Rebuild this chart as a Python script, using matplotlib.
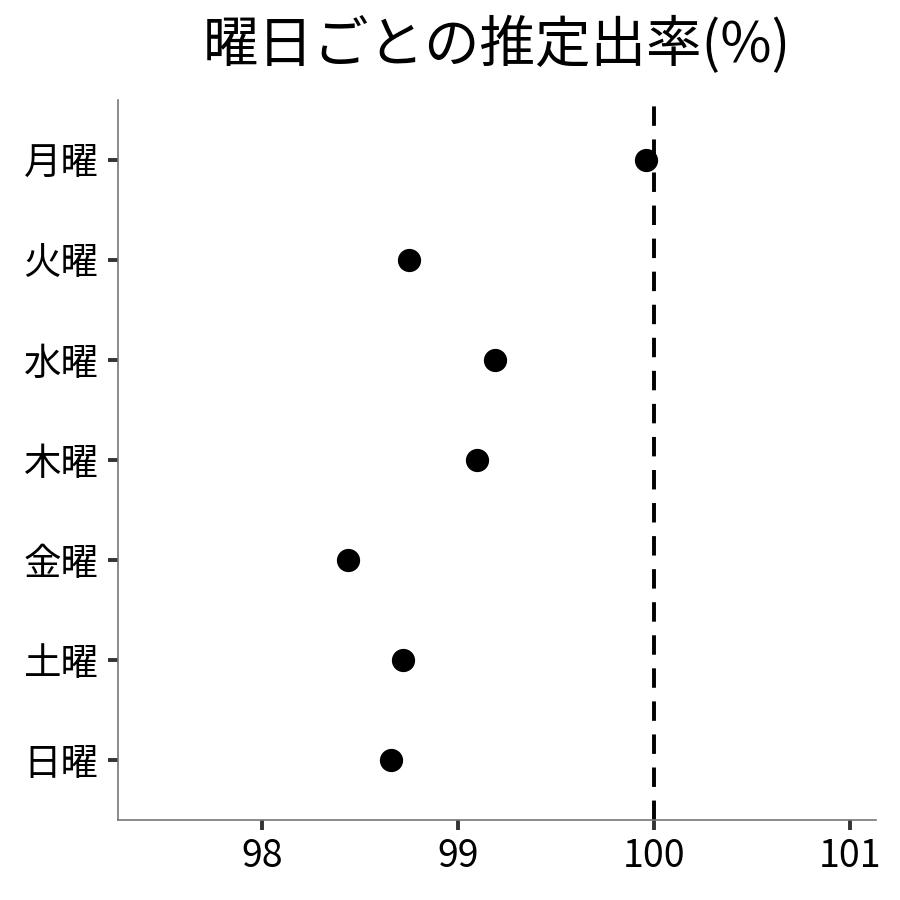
import matplotlib
matplotlib.use("Agg")
import matplotlib.pyplot as plt

plt.rcParams['font.family'] = ['Noto Sans CJK JP', 'DejaVu Sans']

days = ['月曜', '火曜', '水曜', '木曜', '金曜', '土曜', '日曜']
rates = [99.96, 98.75, 99.19, 99.10, 98.44, 98.72, 98.66]
ref_value = 100
xticks = [98, 99, 100, 101]
title = '曜日ごとの推定出率(%)'

fig = plt.figure(figsize=(9, 9), dpi=100)
ax = fig.add_axes([0.131, 0.089, 0.842, 0.800])

ypos = list(range(len(days)))
ax.scatter(rates, ypos, s=280, color='black', zorder=3, linewidths=0)
ax.axvline(ref_value, color='black', linestyle=(0, (5, 3.5)), linewidth=2.8, zorder=2)

ax.set_xlim(97.265, 101.133)
ax.set_ylim(6.6, -0.6)
ax.set_yticks(ypos)
ax.set_yticklabels(days)
ax.set_xticks(xticks)
ax.set_xticklabels([str(v) for v in xticks])

for s in ['top', 'right']:
    ax.spines[s].set_visible(False)
for s in ['left', 'bottom']:
    ax.spines[s].set_color('#777777')
    ax.spines[s].set_linewidth(1.2)

ax.tick_params(axis='both', length=7, width=2.8, color='#333333', labelsize=27, pad=5)
ax.tick_params(axis='y', pad=7)

ax.set_title(title, fontsize=40, pad=27)

fig.savefig('out.png', dpi=100)
